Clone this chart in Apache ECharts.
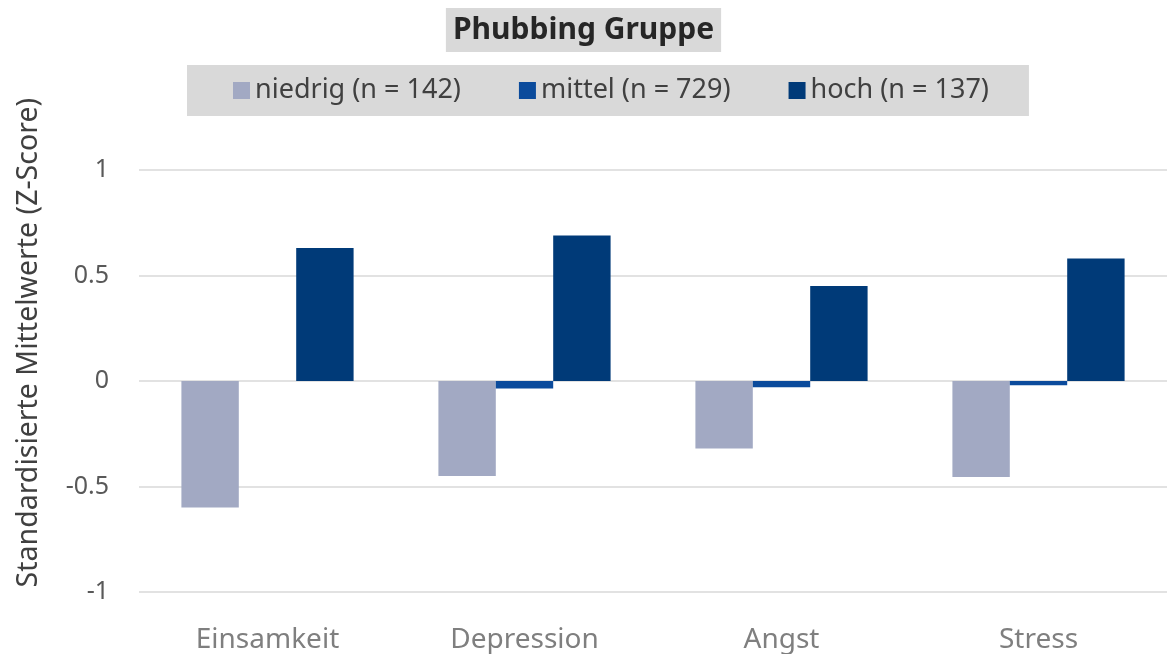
<!DOCTYPE html>
<html>
<head>
<meta charset="utf-8">
<script src="https://cdn.jsdelivr.net/npm/echarts@6/dist/echarts.min.js"></script>
<style>
  html, body { margin: 0; padding: 0; background: #fff; }
  #chart { width: 1167px; height: 654px; }
</style>
</head>
<body>
<div id="chart"></div>
<script>
const categories = ["Einsamkeit", "Depression", "Angst", "Stress"];
const seriesNames = ["niedrig (n = 142)", "mittel (n = 729)", "hoch (n = 137)"];
const niedrig = [-0.6, -0.45, -0.32, -0.455];
const mittel = [0.0, -0.036, -0.03, -0.02];
const hoch = [0.63, 0.69, 0.45, 0.58];
const yTicks = [-1, -0.5, 0, 0.5, 1];

const colors = ["#a2a9c3", "#0b4b9c", "#003a78"];
const font = "Noto Sans";

const chart = echarts.init(document.getElementById("chart"));
const option = {
  animation: false,
  textStyle: { fontFamily: font },
  title: {
    text: "Phubbing Gruppe",
    left: "center",
    top: 8,
    backgroundColor: "#d9d9d9",
    padding: [7, 7, 7, 7],
    textStyle: { fontSize: 30, fontWeight: "bold", color: "#262626", fontFamily: font }
  },
  legend: {
    data: seriesNames,
    top: 65,
    left: 187,
    backgroundColor: "#d9d9d9",
    padding: [12, 40, 12, 46],
    itemWidth: 17,
    itemHeight: 17,
    itemGap: 58,
    icon: "rect",
    textStyle: { fontSize: 27, color: "#404040", fontFamily: font }
  },
  grid: { left: 139, right: -9, top: 170, height: 422, containLabel: false },
  xAxis: {
    type: "category",
    data: categories,
    axisLine: { show: false },
    axisTick: { show: false },
    axisLabel: { fontSize: 28, color: "#7f7f7f", margin: 34 }
  },
  yAxis: {
    type: "value",
    min: yTicks[0],
    max: yTicks[yTicks.length - 1],
    interval: 0.5,
    axisLabel: { fontSize: 25, color: "#595959", margin: 30 },
    splitLine: { lineStyle: { color: "#d9d9d9", width: 1.5 } },
    axisLine: { show: false },
    axisTick: { show: false }
  },
  graphic: [{
    type: "text",
    left: 14,
    top: 98,
    rotation: Math.PI / 2,
    style: {
      text: "Standardisierte Mittelwerte (Z-Score)",
      fontSize: 28.5,
      fill: "#404040",
      fontFamily: font
    }
  }],
  series: [
    { name: seriesNames[0], type: "bar", data: niedrig, barGap: "0%", barCategoryGap: "33%", itemStyle: { color: colors[0] } },
    { name: seriesNames[1], type: "bar", data: mittel, itemStyle: { color: colors[1] } },
    { name: seriesNames[2], type: "bar", data: hoch, itemStyle: { color: colors[2] } }
  ]
};
chart.setOption(option);
</script>
</body>
</html>
